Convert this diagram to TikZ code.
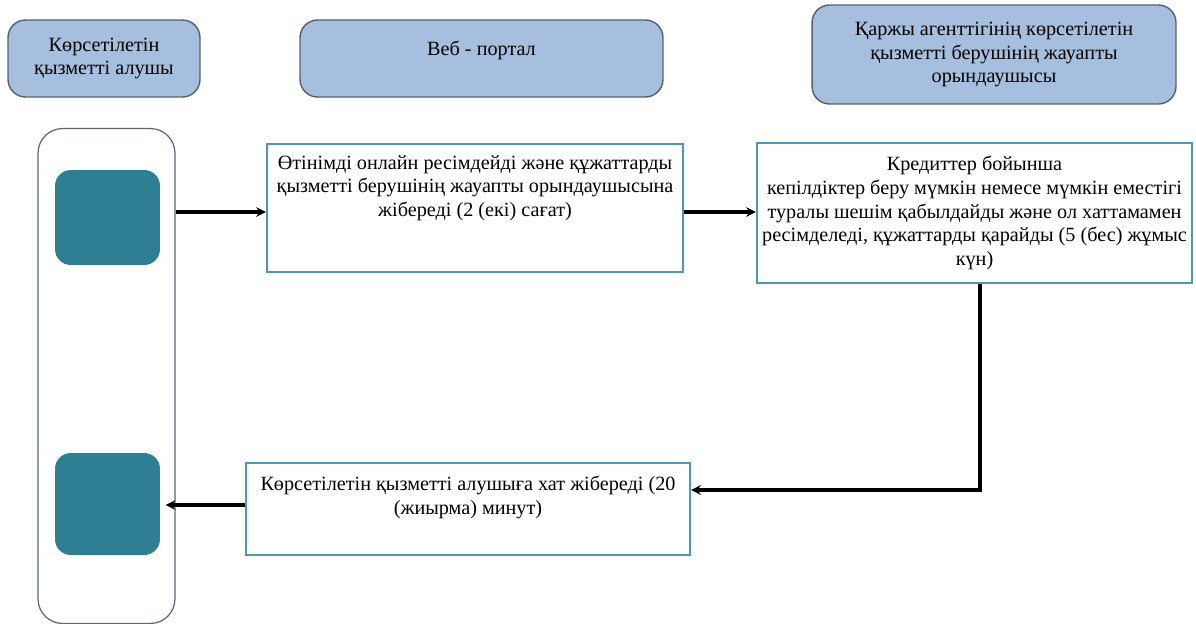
\documentclass[tikz,border=0pt]{standalone}
\usepackage{fontspec}
\setmainfont{Liberation Serif}
\usetikzlibrary{calc,positioning,arrows.meta}
\definecolor{headfill}{HTML}{A7BFDE}
\definecolor{headline}{HTML}{56606B}
\definecolor{actorfill}{HTML}{2F7F94}
\definecolor{boxline}{HTML}{4F98B4}
\definecolor{laneline}{HTML}{5E6672}
\tikzset{
	head/.style={draw=headline, fill=headfill, rounded corners=10pt, line width=0.8pt, inner sep=0pt},
	lane/.style={draw=laneline, rounded corners=14pt, line width=0.7pt},
	actor/.style={fill=actorfill, rounded corners=9pt},
	stepbox/.style={draw=boxline, line width=1.3pt, fill=white},
	txt/.style={align=center, font=\rmfamily\fontsize{11.5}{13.5}\selectfont, inner sep=0pt},
	flow/.style={line width=1.9pt, -{Stealth[length=5.5pt,width=5.5pt]}}
}
\begin{document}
\begin{tikzpicture}[x=0.02cm, y=-0.02cm]
	\useasboundingbox (0,0) rectangle (1196,623);
	\node[head, minimum width=3.84cm, minimum height=1.54cm] (h1) at (104,58.5) {};
	\node[txt] at (h1) {Көрсетілетін\\қызметті алушы};
	\node[head, minimum width=7.26cm, minimum height=1.54cm] (h2) at (481.5,58.5) {};
	\node[txt] at (481.5,50) {Веб - портал};
	\node[head, minimum width=7.28cm, minimum height=1.98cm] (h3) at (994,54.5) {};
	\node[txt] at (h3) {Қаржы агенттігінің көрсетілетін\\қызметті берушінің жауапты\\орындаушысы};
	\node[lane, minimum width=2.74cm, minimum height=9.9cm] (lane) at (106.5,376) {};
	\node[actor, minimum width=2.1cm, minimum height=1.9cm] (act1) at (107.5,217.5) {};
	\node[actor, minimum width=2.1cm, minimum height=2.04cm] (act2) at (107.5,504) {};
	\node[stepbox, minimum width=8.32cm, minimum height=2.56cm] (a) at (475,208) {};
	\node[txt, anchor=north] at (475,155) {Өтінімді онлайн ресімдейді және құжаттарды\\қызметті берушінің жауапты орындаушысына\\жібереді (2 (екі) сағат)};
	\node[stepbox, minimum width=8.7cm, minimum height=2.8cm] (b) at (974.5,213) {};
	\node[txt] at (b) {Кредиттер бойынша\\ кепілдіктер беру мүмкін немесе мүмкін еместігі\\туралы шешім қабылдайды және ол хаттамамен\\ресімделеді, құжаттарды қарайды (5 (бес) жұмыс\\күн)};
	\node[stepbox, minimum width=8.88cm, minimum height=1.84cm] (c) at (468,509) {};
	\node[txt, anchor=north] at (468,476) {Көрсетілетін қызметті алушыға хат жібереді (20\\(жиырма) минут)};
	\draw[flow] (lane.east |- 0,212) -- (a.west |- 0,212);
	\draw[flow] (a.east |- 0,212) -- (b.west |- 0,212);
	\draw[flow] ([xshift=0.11cm]b.south) |- ([yshift=0.38cm]c.east);
	\draw[flow] (c.west |- 0,505) -- ([xshift=-0.2cm]lane.east |- 0,505);
\end{tikzpicture}
\end{document}
